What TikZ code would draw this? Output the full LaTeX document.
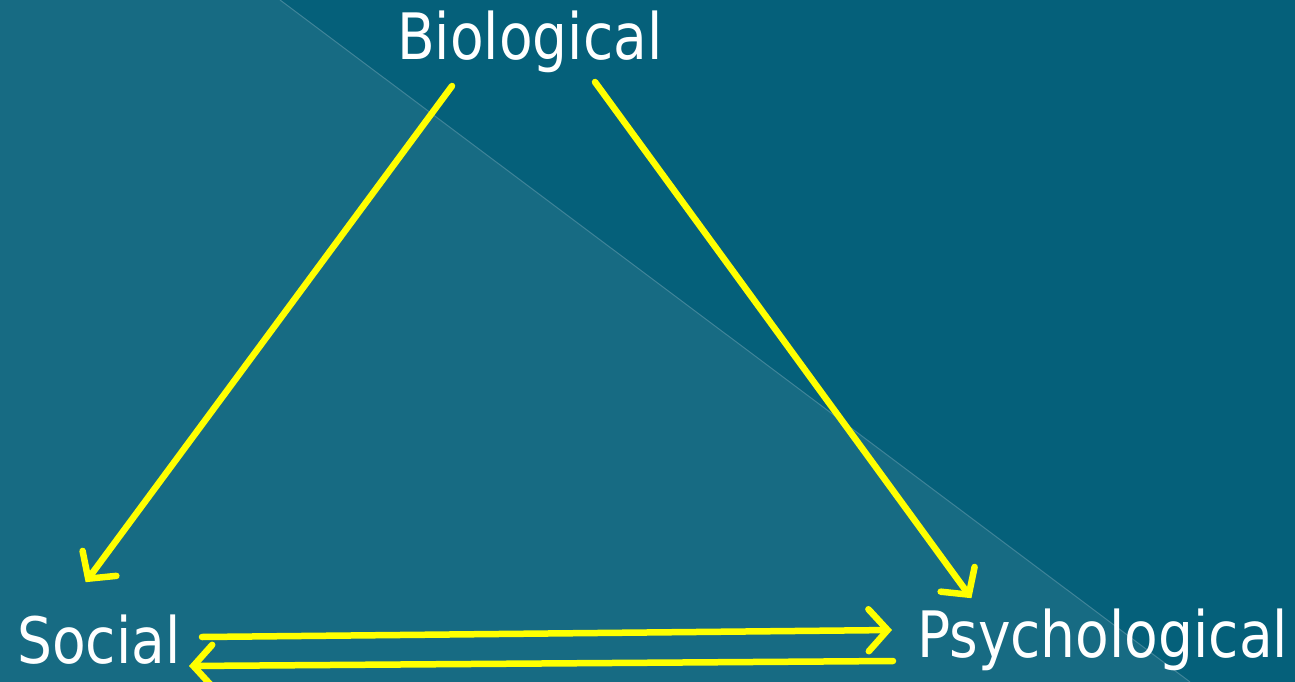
\documentclass[tikz,border=0pt]{standalone}
\usepackage{fontspec}
\setmainfont{DejaVu Sans}
\usetikzlibrary{arrows.meta}
\definecolor{bgdark}{HTML}{05607A}
\definecolor{bglight}{HTML}{176B83}
\definecolor{edgeline}{HTML}{3F8499}
\definecolor{arrowyellow}{HTML}{FFFF00}
\newcommand{\lbltext}[1]{\scalebox{0.86}[1]{#1}}
\tikzset{
  label/.style={text=white, font=\fontsize{64}{64}\selectfont, inner sep=0pt},
  link/.style={draw=arrowyellow, line width=6.5pt, line cap=round,
    -{Straight Barb[length=19pt, width=42pt, line cap=round]}, shorten >=1pt}
}
\begin{document}
\begin{tikzpicture}[x=1pt, y=-1pt]
\useasboundingbox (0,0) rectangle (1295,682);
\fill[bgdark] (0,0) rectangle (1295,682);
\fill[bglight] (0,0) -- (280,0) -- (1190,682) -- (0,682) -- cycle;
\draw[edgeline, line width=1pt] (280,0) -- (1190,682);
\node[label, anchor=base west] (bio) at (397,60) {\lbltext{Biological}};
\node[label, anchor=base west] (soc) at (17,663) {\lbltext{Social}};
\node[label, anchor=base west] (psy) at (917,657) {\lbltext{Psychological}};
\coordinate (b1) at (452,86);
\coordinate (b2) at (595,82);
\coordinate (s1) at (85,583);
\coordinate (p1) at (972,599);
\coordinate (sp0) at (202,637);
\coordinate (sp1) at (893,630);
\coordinate (ps0) at (893,661);
\coordinate (ps1) at (188,666);
\draw[link] (b1) -- (s1);
\draw[link] (b2) -- (p1);
\draw[link] (sp0) -- (sp1);
\draw[link] (ps0) -- (ps1);
\end{tikzpicture}
\end{document}
